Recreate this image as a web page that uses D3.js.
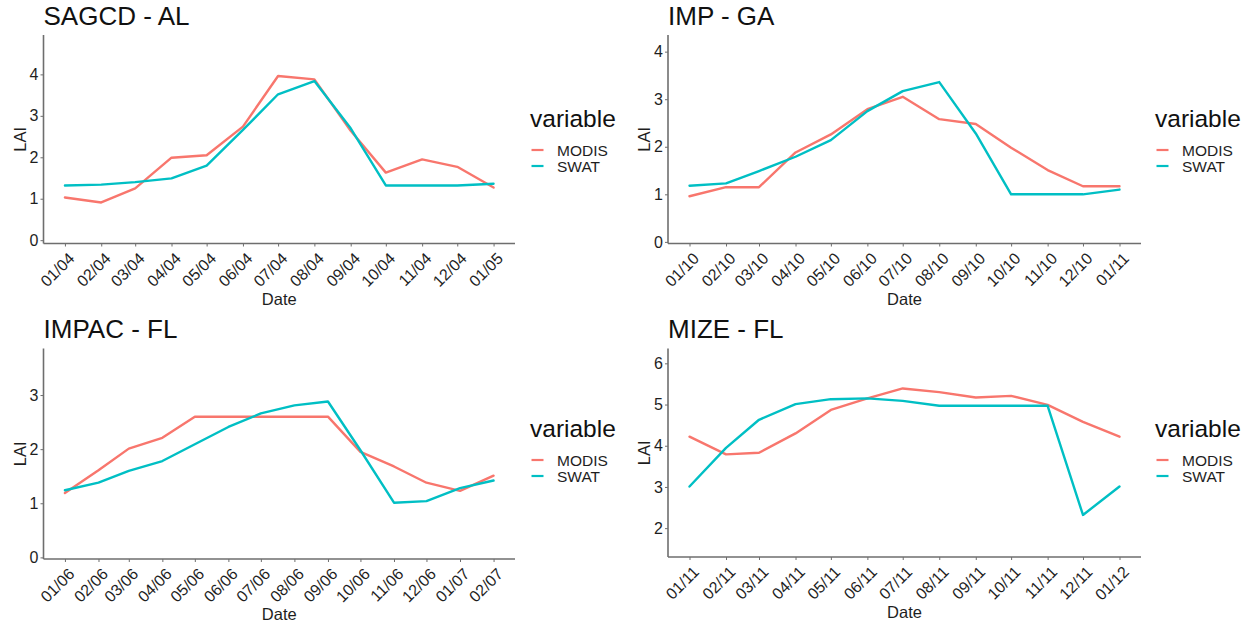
<!DOCTYPE html>
<html>
<head>
<meta charset="utf-8">
<script src="https://cdn.jsdelivr.net/npm/d3@7"></script>
<style>
  body { margin: 0; background: #fff; }
  text { font-family: "Liberation Sans", Arial, sans-serif; }
</style>
</head>
<body>
<svg id="chart" width="1255" height="623"></svg>
<script>
// Series shared by every panel
const seriesNames = ["MODIS", "SWAT"];
const seriesColors = ["#F8766D", "#00BFC4"];

// SAGCD - AL
const sagcdDates = ["2004-01-01","2004-02-01","2004-03-01","2004-04-01","2004-05-01","2004-06-01","2004-07-01","2004-08-01","2004-09-01","2004-10-01","2004-11-01","2004-12-01","2005-01-01"];
const sagcdModis = [1.03, 0.91, 1.25, 1.99, 2.05, 2.74, 3.96, 3.88, 2.64, 1.63, 1.95, 1.77, 1.27];
const sagcdSwat  = [1.32, 1.34, 1.40, 1.49, 1.80, 2.66, 3.52, 3.84, 2.70, 1.32, 1.32, 1.32, 1.36];
const sagcdYTicks = [0, 1, 2, 3, 4];
const sagcdYLimits = [-0.08, 4.95];

// IMP - GA
const impDates = ["2010-01-01","2010-02-01","2010-03-01","2010-04-01","2010-05-01","2010-06-01","2010-07-01","2010-08-01","2010-09-01","2010-10-01","2010-11-01","2010-12-01","2011-01-01"];
const impModis = [0.96, 1.15, 1.15, 1.88, 2.26, 2.79, 3.05, 2.58, 2.48, 1.98, 1.51, 1.17, 1.17];
const impSwat  = [1.18, 1.23, 1.49, 1.79, 2.14, 2.75, 3.17, 3.36, 2.28, 1.00, 1.00, 1.00, 1.10];
const impYTicks = [0, 1, 2, 3, 4];
const impYLimits = [-0.034, 4.35];

// IMPAC - FL
const impacDates = ["2006-01-01","2006-02-01","2006-03-01","2006-04-01","2006-05-01","2006-06-01","2006-07-01","2006-08-01","2006-09-01","2006-10-01","2006-11-01","2006-12-01","2007-01-01","2007-02-01"];
const impacModis = [1.19, 1.61, 2.01, 2.21, 2.60, 2.60, 2.60, 2.60, 2.60, 1.95, 1.68, 1.38, 1.23, 1.51];
const impacSwat  = [1.24, 1.38, 1.60, 1.78, 2.09, 2.41, 2.66, 2.81, 2.88, 1.98, 1.01, 1.04, 1.28, 1.42];
const impacYTicks = [0, 1, 2, 3];
const impacYLimits = [-0.03, 3.86];

// MIZE - FL
const mizeDates = ["2011-01-01","2011-02-01","2011-03-01","2011-04-01","2011-05-01","2011-06-01","2011-07-01","2011-08-01","2011-09-01","2011-10-01","2011-11-01","2011-12-01","2012-01-01"];
const mizeModis = [4.22, 3.79, 3.83, 4.30, 4.87, 5.15, 5.39, 5.30, 5.17, 5.21, 4.99, 4.58, 4.22];
const mizeSwat  = [3.01, 3.95, 4.63, 5.01, 5.13, 5.15, 5.09, 4.97, 4.97, 4.97, 4.97, 2.32, 3.01];
const mizeYTicks = [2, 3, 4, 5, 6];
const mizeYLimits = [1.30, 6.36];

const parseDate = d3.timeParse("%Y-%m-%d");
const formatTick = d3.timeFormat("%m/%y");

// Panel layout: plot box and legend baseline for each facet
const panels = [
  { title: "SAGCD - AL", dates: sagcdDates, values: [sagcdModis, sagcdSwat], yTicks: sagcdYTicks, yLimits: sagcdYLimits,
    box: { left: 43.5, right: 515, top: 35, bottom: 243.5 }, legendLeft: 530, legendTop: 126.7, titleY: 25 },
  { title: "IMP - GA", dates: impDates, values: [impModis, impSwat], yTicks: impYTicks, yLimits: impYLimits,
    box: { left: 668, right: 1141, top: 35, bottom: 243.5 }, legendLeft: 1155, legendTop: 126.7, titleY: 25 },
  { title: "IMPAC - FL", dates: impacDates, values: [impacModis, impacSwat], yTicks: impacYTicks, yLimits: impacYLimits,
    box: { left: 43.5, right: 515, top: 348.5, bottom: 559 }, legendLeft: 530, legendTop: 436.7, titleY: 338 },
  { title: "MIZE - FL", dates: mizeDates, values: [mizeModis, mizeSwat], yTicks: mizeYTicks, yLimits: mizeYLimits,
    box: { left: 668, right: 1141, top: 348.5, bottom: 557 }, legendLeft: 1155, legendTop: 436.7, titleY: 338 }
];

const svg = d3.select("#chart");
const axisColor = "#6e6e6e";
const textColor = "#1e1e1e";
const tickFont = 16;

panels.forEach(p => {
  const g = svg.append("g");
  const b = p.box;
  const dates = p.dates.map(parseDate);
  const w = b.right - b.left;
  const pad = w * 0.05 / 1.1;

  const x = d3.scaleTime()
    .domain(d3.extent(dates))
    .range([b.left + pad, b.right - pad]);
  const y = d3.scaleLinear()
    .domain(p.yLimits)
    .range([b.bottom, b.top]);

  // Title
  g.append("text")
    .attr("x", b.left)
    .attr("y", p.titleY)
    .attr("font-size", 26)
    .attr("fill", "#111")
    .text(p.title);

  // Series lines
  const line = d3.line()
    .x((d, i) => x(dates[i]))
    .y(d => y(d));
  p.values.forEach((vals, si) => {
    g.append("path")
      .datum(vals)
      .attr("d", line)
      .attr("fill", "none")
      .attr("stroke", seriesColors[si])
      .attr("stroke-width", 2.4)
      .attr("stroke-linejoin", "round")
      .attr("stroke-linecap", "round");
  });

  // Y axis
  const yAxis = g.append("g")
    .attr("transform", `translate(${b.left},0)`)
    .call(d3.axisLeft(y).tickValues(p.yTicks).tickFormat(d3.format("d"))
      .tickSize(3).tickPadding(2).tickSizeOuter(0));
  yAxis.select(".domain").remove();
  yAxis.selectAll(".tick line").attr("stroke", axisColor);
  yAxis.selectAll(".tick text")
    .attr("font-size", tickFont)
    .attr("fill", textColor)
    .attr("font-family", "Liberation Sans, Arial, sans-serif");

  // X axis
  const xAxis = g.append("g")
    .attr("transform", `translate(0,${b.bottom})`)
    .call(d3.axisBottom(x).tickValues(dates).tickFormat(formatTick).tickSize(3).tickSizeOuter(0));
  xAxis.select(".domain").remove();
  xAxis.selectAll(".tick line").attr("stroke", axisColor);
  xAxis.selectAll(".tick text")
    .attr("font-size", tickFont)
    .attr("fill", textColor)
    .attr("font-family", "Liberation Sans, Arial, sans-serif")
    .attr("text-anchor", "end")
    .attr("x", 0)
    .attr("y", 0)
    .attr("dy", "0.71em")
    .attr("transform", "translate(2,8) rotate(-45)");

  // Axis lines
  g.append("line")
    .attr("x1", b.left).attr("x2", b.left)
    .attr("y1", b.top).attr("y2", b.bottom)
    .attr("stroke", axisColor).attr("stroke-width", 1.6);
  g.append("line")
    .attr("x1", b.left).attr("x2", b.right)
    .attr("y1", b.bottom).attr("y2", b.bottom)
    .attr("stroke", axisColor).attr("stroke-width", 1.6);

  // Axis titles
  g.append("text")
    .attr("x", (b.left + b.right) / 2)
    .attr("y", b.bottom + 61)
    .attr("text-anchor", "middle")
    .attr("font-size", 16.5)
    .attr("fill", textColor)
    .text("Date");
  g.append("text")
    .attr("transform", `translate(${b.left - 18},${(b.top + b.bottom) / 2}) rotate(-90)`)
    .attr("text-anchor", "middle")
    .attr("font-size", 16.5)
    .attr("fill", textColor)
    .text("LAI");

  // Legend
  const lg = g.append("g").attr("transform", `translate(${p.legendLeft},${p.legendTop})`);
  lg.append("text")
    .attr("x", 0).attr("y", 0)
    .attr("font-size", 24.5)
    .attr("fill", "#111")
    .text("variable");
  seriesNames.forEach((name, i) => {
    const ky = 23.3 + i * 16;
    lg.append("line")
      .attr("x1", 1.5).attr("x2", 13.5)
      .attr("y1", ky).attr("y2", ky)
      .attr("stroke", seriesColors[i])
      .attr("stroke-width", 2.2);
    lg.append("text")
      .attr("x", 27)
      .attr("y", ky + 5.6)
      .attr("font-size", 15.5)
      .attr("fill", textColor)
      .text(name);
  });
});
</script>
</body>
</html>
